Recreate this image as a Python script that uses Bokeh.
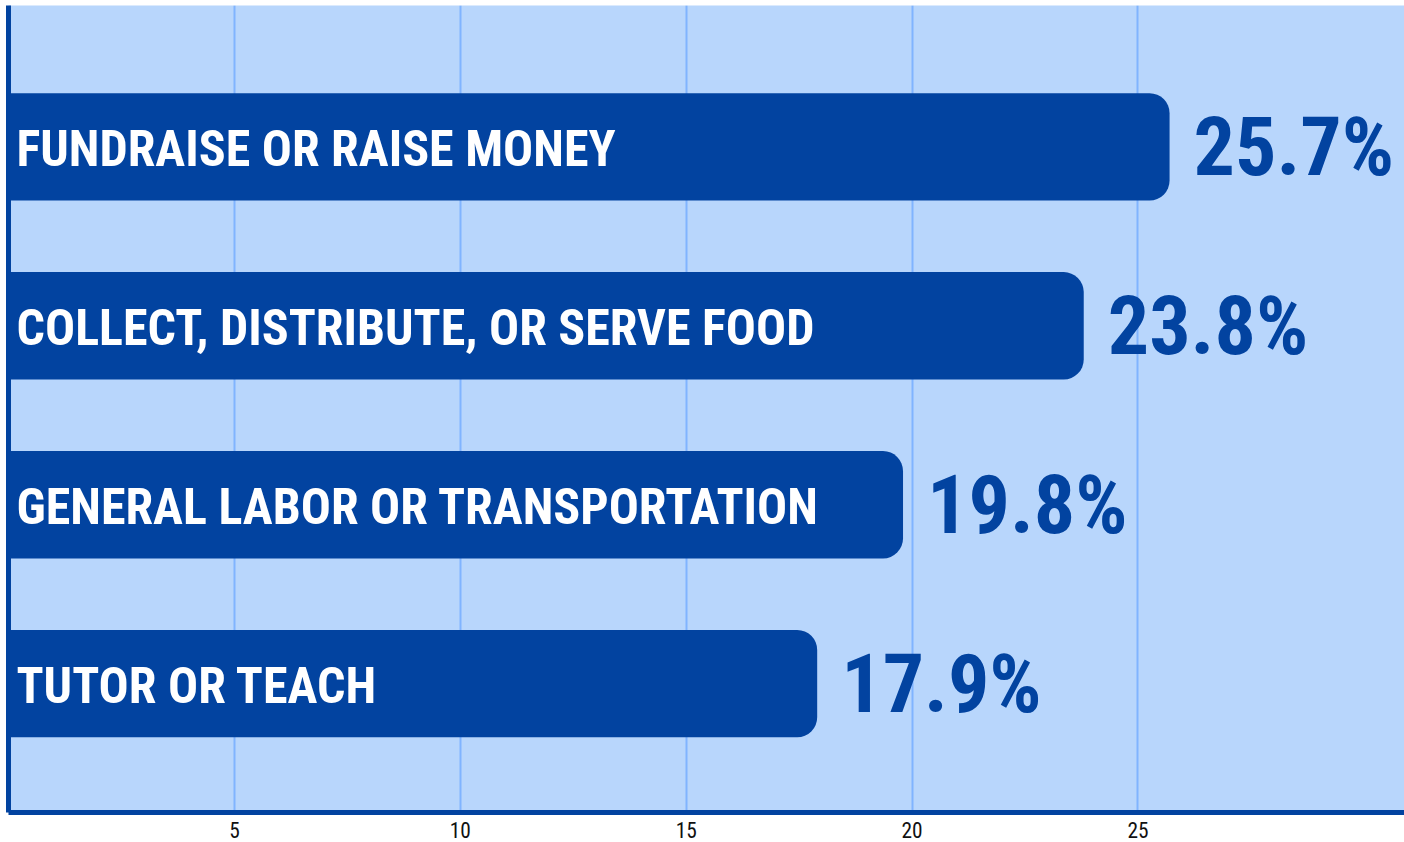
from bokeh.plotting import figure
from bokeh.models import ColumnDataSource, Range1d, FixedTicker
from bokeh.core.properties import value
from bokeh.embed import file_html
from bokeh.resources import INLINE

categories = ["FUNDRAISE OR RAISE MONEY", "COLLECT, DISTRIBUTE, OR SERVE FOOD",
              "GENERAL LABOR OR TRANSPORTATION", "TUTOR OR TEACH"]
percent = [25.7, 23.8, 19.8, 17.9]
tick_values = [5, 10, 15, 20, 25]

DARK = "#0243a0"
BG = "#b8d6fc"
GRID = "#80b4ff"
FONT = "'Liberation Sans Narrow', 'Roboto Condensed', 'DejaVu Sans Condensed', sans-serif"

src = ColumnDataSource(dict(
    y=list(range(len(categories))),
    cat=categories,
    val=percent,
    lab=[f"{v:.1f}%" for v in percent],
))

p = figure(width=1404, height=842, output_backend="svg", toolbar_location=None,
           x_range=Range1d(0, 30.9), y_range=Range1d(3.72, -0.79),
           min_border_left=8, min_border_right=0, min_border_top=5, min_border_bottom=30)

p.background_fill_color = BG
p.border_fill_color = "white"
p.outline_line_color = None

p.hbar(y="y", left=0, right="val", height=0.6, source=src, fill_color=DARK,
       line_color=None, border_radius=(0, 20, 20, 0))

p.text(x=0, y="y", text="cat", source=src, x_offset=8, y_offset=2,
       text_color="white", text_font=value(FONT), text_font_style="bold",
       text_font_size="50px", text_baseline="middle", text_align="left")

p.text(x="val", y="y", text="lab", source=src, x_offset=24, y_offset=0,
       text_color=DARK, text_font=value(FONT), text_font_style="bold",
       text_font_size="82px", text_baseline="middle", text_align="left")

p.xaxis.ticker = FixedTicker(ticks=tick_values)
p.xgrid.ticker = FixedTicker(ticks=tick_values)
p.xgrid.grid_line_color = GRID
p.xgrid.grid_line_width = 2
p.ygrid.grid_line_color = None

p.xaxis.axis_line_color = DARK
p.xaxis.axis_line_width = 5
p.xaxis.major_tick_line_color = None
p.xaxis.minor_tick_line_color = None
p.xaxis.major_tick_out = 0
p.xaxis.major_label_text_font = "Roboto Condensed"
p.xaxis.major_label_text_font_size = "16pt"
p.xaxis.major_label_text_color = "#111111"
p.xaxis.major_label_standoff = 9

p.yaxis.axis_line_color = DARK
p.yaxis.axis_line_width = 5
p.yaxis.major_tick_line_color = None
p.yaxis.minor_tick_line_color = None
p.yaxis.major_label_text_font_size = "0px"
p.yaxis.major_label_standoff = 0
p.yaxis.ticker = FixedTicker(ticks=[])

open("out.html", "w").write(file_html(p, INLINE))
